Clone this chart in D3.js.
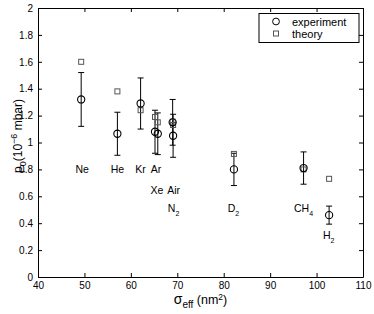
<!DOCTYPE html>
<html>
<head>
<meta charset="utf-8">
<script src="https://cdnjs.cloudflare.com/ajax/libs/d3/7.8.5/d3.min.js"></script>
<style>
  body { margin: 0; background: #fff; }
  text { font-family: "Liberation Sans", Arial, sans-serif; fill: #000; }
</style>
</head>
<body>
<div id="vis-container"></div>
<script>
// data
const gases = ['Ne', 'He', 'Kr', 'Ar', 'Xe', 'Air', 'N2', 'D2', 'CH4', 'H2'];
const sigma = [49.3, 57.1, 62.1, 65.2, 65.8, 69.0, 69.1, 82.2, 97.2, 102.7];
const expP0 = [1.32, 1.065, 1.29, 1.08, 1.065, 1.15, 1.05, 0.80, 0.81, 0.46];
const expErr = [0.20, 0.16, 0.19, 0.16, 0.155, 0.17, 0.16, 0.12, 0.12, 0.067];
const theoryP0 = [1.60, 1.38, 1.24, 1.19, 1.15, 1.155, 1.13, 0.915, 0.80, 0.73];

// label positions (data coords)
const labelX = [49.5, 57.1, 62.1, 65.4, 65.6, 69.2, 69.2, 82.1, 97.2, 102.6];
const labelY = [0.80, 0.80, 0.80, 0.80, 0.65, 0.65, 0.51, 0.51, 0.51, 0.31];

const xTicks = [40, 50, 60, 70, 80, 90, 100, 110];
const yTicks = [0, 0.2, 0.4, 0.6, 0.8, 1, 1.2, 1.4, 1.6, 1.8, 2];

const W = 374, H = 314;
const margin = { top: 8, right: 11, bottom: 37, left: 38 };

const svg = d3.select("#vis-container")
  .append("svg")
    .attr("width", W)
    .attr("height", H);

const x = d3.scaleLinear().domain([40, 110]).range([margin.left, W - margin.right]);
const y = d3.scaleLinear().domain([0, 2]).range([H - margin.bottom, margin.top]);

const tickLen = 4;

// axes, ticks pointing inward
svg.append("g")
  .attr("transform", `translate(0, ${y(0)})`)
  .call(d3.axisBottom(x).tickValues(xTicks).tickSizeInner(-tickLen).tickSizeOuter(0).tickPadding(5))
  .call(g => g.selectAll("text").attr("font-size", 10));

svg.append("g")
  .attr("transform", `translate(0, ${y(2)})`)
  .call(d3.axisTop(x).tickValues(xTicks).tickSizeInner(-tickLen).tickSizeOuter(0).tickFormat(""));

svg.append("g")
  .attr("transform", `translate(${x(40)}, 0)`)
  .call(d3.axisLeft(y).tickValues(yTicks).tickSizeInner(-tickLen).tickSizeOuter(0).tickPadding(5)
    .tickFormat(d3.format("~g")))
  .call(g => g.selectAll("text").attr("font-size", 10));

svg.append("g")
  .attr("transform", `translate(${x(110)}, 0)`)
  .call(d3.axisRight(y).tickValues(yTicks).tickSizeInner(-tickLen).tickSizeOuter(0).tickFormat(""));

svg.selectAll(".domain").attr("stroke", "#000");
svg.selectAll(".tick line").attr("stroke", "#000");
svg.selectAll(".tick text").attr("font-family", "Liberation Sans, Arial, sans-serif");

const idx = d3.range(gases.length);

// error bars
const cap = 3;
const eb = svg.append("g").attr("stroke", "#000").attr("stroke-width", 1).attr("fill", "none");
idx.forEach(i => {
  const cx = x(sigma[i]), top = y(expP0[i] + expErr[i]), bot = y(expP0[i] - expErr[i]);
  eb.append("line").attr("x1", cx).attr("x2", cx).attr("y1", top).attr("y2", bot);
  eb.append("line").attr("x1", cx - cap).attr("x2", cx + cap).attr("y1", top).attr("y2", top);
  eb.append("line").attr("x1", cx - cap).attr("x2", cx + cap).attr("y1", bot).attr("y2", bot);
});

// theory squares
svg.append("g").selectAll("rect")
  .data(idx)
  .enter()
  .append("rect")
    .attr("x", i => x(sigma[i]) - 2.5)
    .attr("y", i => y(theoryP0[i]) - 2.5)
    .attr("width", 5)
    .attr("height", 5)
    .attr("fill", "none")
    .attr("stroke", "#555")
    .attr("stroke-width", 1);

// experiment circles
svg.append("g").selectAll("circle")
  .data(idx)
  .enter()
  .append("circle")
    .attr("cx", i => x(sigma[i]))
    .attr("cy", i => y(expP0[i]))
    .attr("r", 3.6)
    .attr("fill", "none")
    .attr("stroke", "#000")
    .attr("stroke-width", 1.1);

// gas labels with subscript digits
const lab = svg.append("g");
idx.forEach(i => {
  const t = lab.append("text")
    .attr("x", x(labelX[i]))
    .attr("y", y(labelY[i]) + 4)
    .attr("text-anchor", "middle")
    .attr("font-size", 10.5);
  const m = gases[i].match(/^([A-Za-z]+)(\d*)$/);
  t.append("tspan").text(m[1]);
  if (m[2]) t.append("tspan").attr("font-size", 7).attr("dy", 4).text(m[2]);
});

// legend
const lg = svg.append("g");
lg.append("rect")
  .attr("x", 259).attr("y", 13.5).attr("width", 100).attr("height", 29)
  .attr("fill", "#fff").attr("stroke", "#000").attr("stroke-width", 1);
lg.append("circle").attr("cx", 276).attr("cy", 21.5).attr("r", 3.4)
  .attr("fill", "none").attr("stroke", "#000");
lg.append("rect").attr("x", 273.5).attr("y", 31).attr("width", 5).attr("height", 5)
  .attr("fill", "none").attr("stroke", "#555");
lg.append("text").attr("x", 292).attr("y", 25.5).attr("font-size", 11).text("experiment");
lg.append("text").attr("x", 292).attr("y", 37.5).attr("font-size", 11).text("theory");

// x label
const xl = svg.append("text")
  .attr("x", (x(40) + x(110)) / 2)
  .attr("y", 304)
  .attr("text-anchor", "middle")
  .attr("font-size", 12.5);
xl.append("tspan").attr("font-size", 14).text("σ");
xl.append("tspan").attr("font-size", 10).attr("dy", 4).text("eff");
xl.append("tspan").attr("dy", -4).text(" (nm");
xl.append("tspan").attr("font-size", 8.5).attr("dy", -4).text("2");
xl.append("tspan").attr("dy", 4).text(")");

// y label
const yl = svg.append("text")
  .attr("transform", `translate(22, 136) rotate(-90)`)
  .attr("text-anchor", "middle")
  .attr("font-size", 12);
yl.append("tspan").text("p");
yl.append("tspan").attr("font-size", 9).attr("dy", 4).text("0");
yl.append("tspan").attr("dy", -4).text("(10");
yl.append("tspan").attr("font-size", 9).attr("dy", -5).text("−6");
yl.append("tspan").attr("dy", 5).text(" mbar)");
</script>
</body>
</html>
